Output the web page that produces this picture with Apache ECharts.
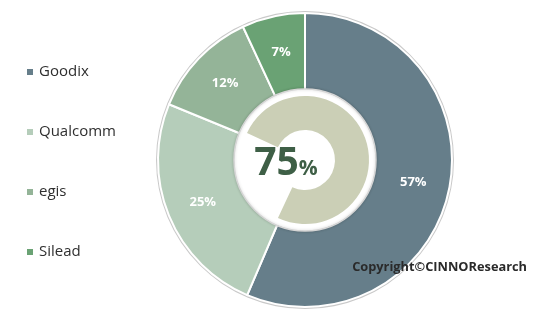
<!DOCTYPE html>
<html>
<head>
<meta charset="utf-8">
<script src="https://cdn.jsdelivr.net/npm/echarts@6/dist/echarts.min.js"></script>
<style>
  html, body { margin: 0; padding: 0; background: #fff; }
  #chart { width: 554px; height: 316px; }
</style>
</head>
<body>
<div id="chart"></div>
<script>
// Vendor shares of the fingerprint sensor market
const vendors = ['Goodix', 'Qualcomm', 'egis', 'Silead'];
const shares = [57, 25, 12, 7];
const vendorColors = ['#667e8a', '#b5cdba', '#94b498', '#6aa274'];

// Combined share highlighted in the centre ring
const highlightValue = 75;
const highlightRest = 100 - highlightValue;

const FONT = '"Open Sans", "Noto Sans", sans-serif';
const CENTER = [305, 160];

const chart = echarts.init(document.getElementById('chart'), null, { renderer: 'canvas' });

chart.setOption({
  backgroundColor: '#ffffff',
  animation: false,
  legend: {
    orient: 'vertical',
    left: 20,
    top: 59,
    itemGap: 44,
    icon: 'rect',
    itemWidth: 8,
    itemHeight: 8,
    textStyle: { fontFamily: FONT, fontSize: 15, color: '#2f2f2f', lineHeight: 16, padding: [0, 0, 0, 0] },
    data: vendors
  },
  title: {
    text: 'Copyright©CINNOResearch',
    right: 22,
    top: 256,
    textStyle: { fontFamily: FONT, fontSize: 12.8, fontWeight: 'bold', color: '#2a2a2a' }
  },
  series: [
    {
      // thin grey rim around the outer ring
      type: 'pie',
      silent: true,
      center: CENTER,
      radius: [147, 149],
      label: { show: false },
      labelLine: { show: false },
      itemStyle: { color: '#c9c9c9' },
      data: [{ value: 1, name: '' }]
    },
    {
      type: 'pie',
      center: CENTER,
      radius: [68, 147],
      startAngle: 90,
      clockwise: true,
      avoidLabelOverlap: false,
      itemStyle: { borderColor: '#ffffff', borderWidth: 2 },
      label: {
        show: true,
        position: 'inside',
        formatter: '{c}%',
        fontFamily: FONT,
        fontSize: 13,
        fontWeight: 'bold',
        color: '#ffffff'
      },
      labelLine: { show: false },
      data: vendors.map((name, i) => ({ name, value: shares[i], itemStyle: { color: vendorColors[i] } }))
    },
    {
      // white centre disc
      type: 'pie',
      silent: true,
      center: CENTER,
      radius: [0, 71],
      label: { show: false },
      labelLine: { show: false },
      itemStyle: {
        color: '#ffffff',
        borderColor: '#d6d6d6',
        borderWidth: 1.5,
        shadowBlur: 3,
        shadowColor: 'rgba(0,0,0,0.18)'
      },
      data: [{ value: 1, name: '' }]
    },
    {
      // inner ring showing the combined share
      type: 'pie',
      silent: true,
      center: CENTER,
      radius: [30, 64],
      startAngle: 155,
      clockwise: true,
      label: { show: false },
      labelLine: { show: false },
      data: [
        { value: highlightValue, name: 'share', itemStyle: { color: '#cbcfb6' } },
        { value: highlightRest, name: 'rest', itemStyle: { color: 'rgba(0,0,0,0)' } }
      ]
    }
  ],
  graphic: [
    {
      type: 'text',
      x: 286,
      y: 164,
      z: 100,
      style: {
        text: '{big|' + highlightValue + '}{pct|%}',
        align: 'center',
        verticalAlign: 'middle',
        rich: {
          big: { fontFamily: FONT, fontSize: 39, fontWeight: 'bold', fill: '#3e5f46', color: '#3e5f46' },
          pct: { fontFamily: FONT, fontSize: 21, fontWeight: 'bold', fill: '#3e5f46', color: '#3e5f46', padding: [10, 0, 0, 0] }
        }
      }
    }
  ]
});
</script>
</body>
</html>
